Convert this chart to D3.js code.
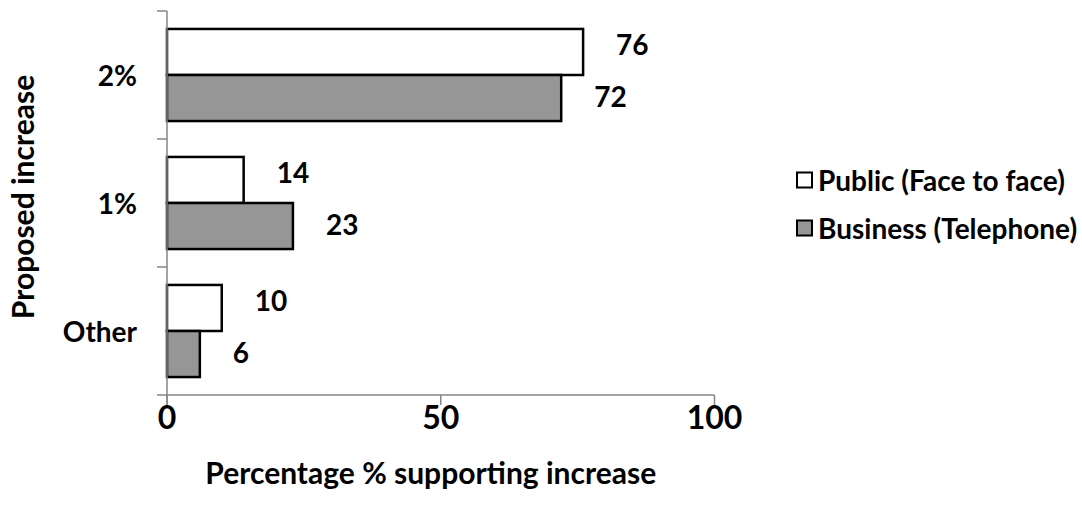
<!DOCTYPE html>
<html>
<head>
<meta charset="utf-8">
<script src="https://cdn.jsdelivr.net/npm/d3@7"></script>
<style>
  html, body { margin: 0; padding: 0; background: #fff; }
  svg text { font-family: "Lato", "Open Sans", sans-serif; font-weight: bold; fill: #000; }
</style>
</head>
<body>
<svg id="chart" width="1082" height="515"></svg>
<script>
// ---- data ----
const categories = ["2%", "1%", "Other"];
const seriesNames = ["Public (Face to face)", "Business (Telephone)"];
const publicValues = [76, 14, 10];
const businessValues = [72, 23, 6];
const xTicks = [0, 50, 100];
const xTitle = "Percentage % supporting increase";
const yTitle = "Proposed increase";

// ---- build ----
const seriesValues = [publicValues, businessValues];
const seriesFill = ["#ffffff", "#969696"];
const rows = categories.map((c, i) => ({
  cat: c,
  vals: seriesNames.map((s, j) => ({ series: s, idx: j, value: seriesValues[j][i] }))
}));

const svg = d3.select("#chart");
const plot = { left: 167, right: 714.5, top: 11, bottom: 395 };

const x = d3.scaleLinear().domain([0, 100]).range([plot.left, plot.right]);
const y = d3.scaleBand().domain(categories).range([plot.top, plot.bottom]).paddingInner(0).paddingOuter(0);
const ySub = d3.scaleBand().domain(d3.range(seriesNames.length)).range([0, y.bandwidth()]).paddingOuter(0.39).paddingInner(0);

const axisColor = "#868686";

// bars
const g = svg.append("g");
const grp = g.selectAll("g.cat").data(rows).join("g")
  .attr("transform", d => `translate(0,${y(d.cat)})`);
grp.selectAll("rect").data(d => d.vals).join("rect")
  .attr("x", x(0))
  .attr("y", d => ySub(d.idx))
  .attr("width", d => x(d.value) - x(0))
  .attr("height", ySub.bandwidth())
  .attr("fill", d => seriesFill[d.idx])
  .attr("stroke", "#000")
  .attr("stroke-width", 2.5);

// data labels
const labelDy = [-8, -2];
grp.selectAll("text.val").data(d => d.vals).join("text")
  .attr("class", "val")
  .attr("x", d => x(d.value) + 33)
  .attr("y", d => ySub(d.idx) + ySub.bandwidth() / 2 + labelDy[d.idx])
  .attr("dominant-baseline", "central")
  .attr("font-size", 28)
  .text(d => d.value);

// y axis
const yAxis = svg.append("g").attr("transform", `translate(${plot.left},0)`);
yAxis.append("line").attr("x1", 0).attr("x2", 0).attr("y1", plot.top).attr("y2", plot.bottom + 10)
  .attr("stroke", axisColor).attr("stroke-width", 1.5);
const yBounds = categories.map(c => y(c)).concat([plot.bottom]);
yAxis.selectAll("line.tick").data(yBounds).join("line").attr("class", "tick")
  .attr("x1", -10).attr("x2", 0).attr("y1", d => d).attr("y2", d => d)
  .attr("stroke", axisColor).attr("stroke-width", 1.5);
yAxis.selectAll("text").data(categories).join("text")
  .attr("x", -30)
  .attr("y", d => y(d) + y.bandwidth() / 2)
  .attr("text-anchor", "end")
  .attr("dominant-baseline", "central")
  .attr("font-size", 28)
  .text(d => d);

// x axis
const xAxis = svg.append("g").attr("transform", `translate(0,${plot.bottom})`);
xAxis.append("line").attr("x1", plot.left).attr("x2", plot.right).attr("y1", 0).attr("y2", 0)
  .attr("stroke", axisColor).attr("stroke-width", 1.5);
xAxis.selectAll("line.tick").data(xTicks).join("line").attr("class", "tick")
  .attr("x1", d => x(d)).attr("x2", d => x(d)).attr("y1", 0).attr("y2", 10)
  .attr("stroke", axisColor).attr("stroke-width", 1.5);
xAxis.selectAll("text").data(xTicks).join("text")
  .attr("x", d => x(d))
  .attr("y", 21)
  .attr("text-anchor", "middle")
  .attr("dominant-baseline", "central")
  .attr("font-size", 32)
  .text(d => d);

// axis titles
svg.append("text")
  .attr("x", (plot.left + plot.right) / 2 - 10)
  .attr("y", 472)
  .attr("text-anchor", "middle")
  .attr("dominant-baseline", "central")
  .attr("font-size", 30)
  .text(xTitle);
svg.append("text")
  .attr("transform", `translate(22,${(plot.top + plot.bottom) / 2 - 6}) rotate(-90)`)
  .attr("text-anchor", "middle")
  .attr("dominant-baseline", "central")
  .attr("font-size", 30)
  .text(yTitle);

// legend
const legend = svg.append("g").attr("transform", "translate(797,0)");
const legRow = legend.selectAll("g").data(seriesNames).join("g")
  .attr("transform", (d, i) => `translate(0,${180 + i * 48})`);
legRow.append("rect")
  .attr("x", 0).attr("y", -7.5).attr("width", 15).attr("height", 15)
  .attr("fill", (d, i) => seriesFill[i]).attr("stroke", "#000").attr("stroke-width", 2);
legRow.append("text")
  .attr("x", 21).attr("y", 0)
  .attr("dominant-baseline", "central")
  .attr("font-size", 28)
  .text(d => d);
</script>
</body>
</html>
